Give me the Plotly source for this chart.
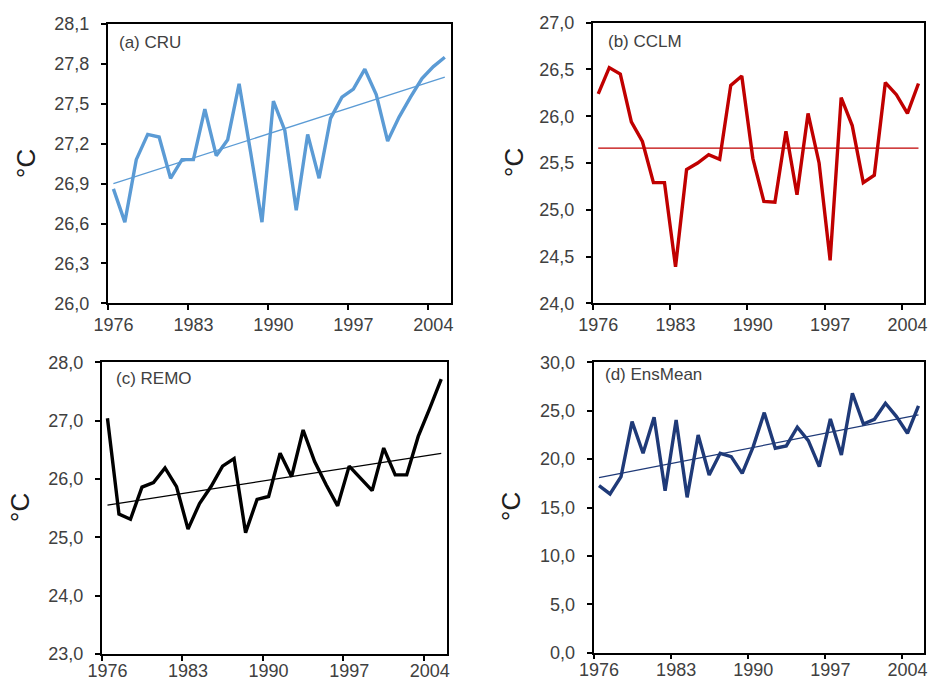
import numpy as np
import plotly.graph_objects as go

# Annual mean temperature series, 1976-2005
years = list(range(1976, 2006))

cru = [26.86, 26.61, 27.08, 27.27, 27.25, 26.94, 27.08, 27.08, 27.46, 27.11,
       27.23, 27.65, 27.14, 26.61, 27.52, 27.30, 26.70, 27.27, 26.94, 27.39,
       27.55, 27.61, 27.76, 27.57, 27.22, 27.40, 27.55, 27.69, 27.78, 27.85]

cclm = [26.24, 26.52, 26.45, 25.94, 25.73, 25.29, 25.29, 24.39, 25.43, 25.50,
        25.59, 25.54, 26.33, 26.43, 25.55, 25.09, 25.08, 25.84, 25.16, 26.03,
        25.50, 24.46, 26.20, 25.90, 25.29, 25.37, 26.36, 26.23, 26.03, 26.35]

remo = [27.04, 25.40, 25.31, 25.86, 25.94, 26.19, 25.87, 25.14, 25.58, 25.87,
        26.22, 26.35, 25.08, 25.65, 25.70, 26.44, 26.04, 26.84, 26.30, 25.90,
        25.54, 26.22, 26.01, 25.80, 26.53, 26.07, 26.07, 26.73, 27.21, 27.71]

ensmean = [17.26, 16.40, 18.19, 23.87, 20.60, 24.32, 16.74, 24.04, 16.05, 22.49,
           18.36, 20.60, 20.25, 18.53, 21.29, 24.80, 21.12, 21.36, 23.29, 21.90,
           19.22, 24.15, 20.43, 26.80, 23.63, 24.11, 25.77, 24.39, 22.67, 25.49]

# Trend line values at the first and last year of each series
cru_trend = [26.90, 27.70]
cclm_trend = [25.66, 25.66]
remo_trend = [25.55, 26.44]
ensmean_trend = [18.08, 24.56]

labels = ["(a) CRU", "(b) CCLM", "(c) REMO", "(d) EnsMean"]
colors = ["#5B9BD5", "#C00000", "#000000", "#1F3A78"]
series = [cru, cclm, remo, ensmean]
trends = [cru_trend, cclm_trend, remo_trend, ensmean_trend]
y_ranges = [(26.0, 28.1), (24.0, 27.0), (23.0, 28.0), (0.0, 30.0)]
y_steps = [0.3, 0.5, 1.0, 5.0]
label_years = [1976, 1983, 1990, 1997, 2004]

W, H = 932, 682
# plot-area boxes in pixels: left, right, top, bottom
boxes = [(107.7, 450.5, 24.0, 303.3),
         (592.7, 924.0, 22.7, 303.3),
         (101.7, 447.0, 362.3, 654.0),
         (593.5, 924.0, 362.3, 652.7)]
# gap between the x axis and its year labels (bottom row sits close to the page edge)
x_label_gap = [4, 4, 0, 0]
ylabel_pos = [(26, 164), (514, 163), (20, 508), (511, 507)]
panel_label_pos = [(116.5, 43), (605.5, 42), (113.5, 379), (602.5, 375)]

FONT = "Liberation Sans, Arial"

fig = go.Figure()

for i in range(4):
    xa = "x" if i == 0 else f"x{i + 1}"
    ya = "y" if i == 0 else f"y{i + 1}"
    fig.add_trace(go.Scatter(x=years, y=series[i], mode="lines",
                             line=dict(color=colors[i], width=3.4),
                             xaxis=xa, yaxis=ya, showlegend=False))
    fig.add_trace(go.Scatter(x=[years[0], years[-1]], y=trends[i], mode="lines",
                             line=dict(color=colors[i], width=1.3),
                             xaxis=xa, yaxis=ya, showlegend=False))

    l, r, t, b = boxes[i]
    key = "" if i == 0 else str(i + 1)
    lo, hi = y_ranges[i]
    fig.update_layout(**{
        f"xaxis{key}": dict(
            domain=[l / W, r / W], anchor=ya, range=[years[0] - 0.5, years[-1] + 0.5],
            automargin=False,
            tickmode="array", tickvals=label_years, ticktext=[str(v) for v in label_years],
            ticks="", showgrid=False, zeroline=False,
            showline=True, linecolor="black", linewidth=1.5, mirror=True,
            tickfont=dict(family=FONT, size=18, color="#404040"),
            ticklabelstandoff=x_label_gap[i],
            minor=dict(tickmode="array", tickvals=[v - 0.5 for v in label_years],
                       ticks="outside", ticklen=5, tickwidth=1.5, tickcolor="black",
                       showgrid=False),
        ),
        f"yaxis{key}": dict(
            domain=[1 - b / H, 1 - t / H], anchor=xa, range=[lo, hi],
            automargin=False,
            tick0=lo, dtick=y_steps[i], tickformat=".1f",
            ticks="outside", ticklen=5, tickwidth=1.5, tickcolor="black",
            showgrid=False, zeroline=False,
            showline=True, linecolor="black", linewidth=1.5, mirror=True,
            tickfont=dict(family=FONT, size=18, color="#404040"),
            ticklabelstandoff=8,
        ),
    })

    lx, ly = ylabel_pos[i]
    fig.add_annotation(x=lx / W, y=1 - ly / H, xref="paper", yref="paper",
                       text="°C", textangle=-90, showarrow=False,
                       xanchor="center", yanchor="middle",
                       font=dict(family=FONT, size=26, color="#202020"))
    px, py = panel_label_pos[i]
    fig.add_annotation(x=px / W, y=1 - py / H, xref="paper", yref="paper",
                       text=labels[i], showarrow=False,
                       xanchor="left", yanchor="middle",
                       font=dict(family=FONT, size=17, color="#404040"))

fig.update_layout(width=W, height=H, margin=dict(l=0, r=0, t=0, b=0),
                  paper_bgcolor="white", plot_bgcolor="white",
                  separators=",.")

fig.write_html("out.html")
